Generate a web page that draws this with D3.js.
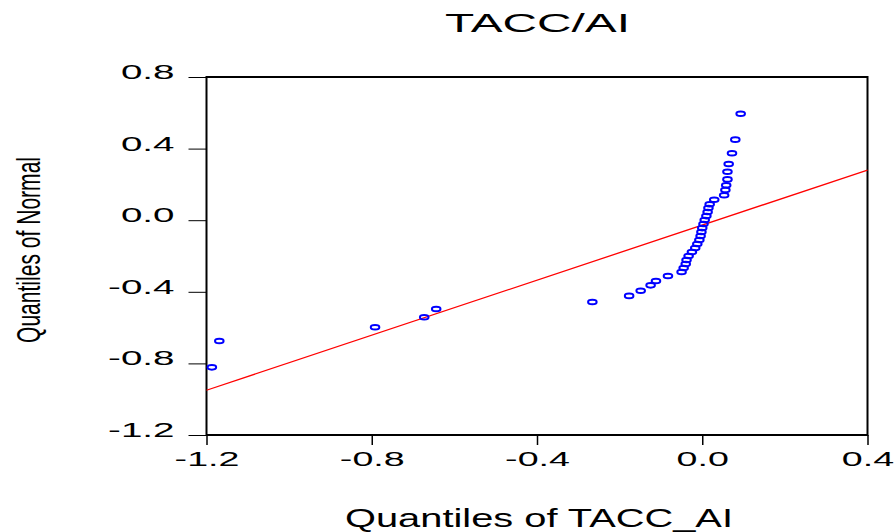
<!DOCTYPE html>
<html>
<head>
<meta charset="utf-8">
<script src="https://cdn.jsdelivr.net/npm/d3@7"></script>
<style>
  body { margin: 0; background: #fff; }
  text { font-family: "Liberation Sans", Arial, sans-serif; fill: #000; }
</style>
</head>
<body>
<div id="chart"></div>
<script>
// Width and height of the picture
const width = 896;
const height = 532;

// Quantiles of TACC_AI (x) and quantiles of normal (y)
const qData = [-1.187, -1.169, -0.792, -0.673, -0.644, -0.266, -0.177, -0.149, -0.125, -0.112,
  -0.083, -0.05, -0.045, -0.04, -0.038, -0.033, -0.025, -0.017, -0.012, -0.007,
  -0.004, -0.002, 0.0, 0.003, 0.006, 0.01, 0.013, 0.015, 0.018, 0.029,
  0.053, 0.056, 0.058, 0.061, 0.061, 0.064, 0.072, 0.08, 0.093];
const qNormal = [-0.822, -0.675, -0.598, -0.542, -0.496, -0.457, -0.423, -0.394, -0.364, -0.34,
  -0.312, -0.289, -0.267, -0.245, -0.222, -0.2, -0.178, -0.155, -0.133, -0.111,
  -0.088, -0.066, -0.044, -0.021, 0.001, 0.023, 0.046, 0.068, 0.089, 0.114,
  0.139, 0.169, 0.195, 0.228, 0.271, 0.314, 0.374, 0.45, 0.595];

// reference line end points
const lineX = [-1.2, 0.4];
const lineY = [-0.95, 0.28];

// tick labels
const xTicks = [-1.2, -0.8, -0.4, 0.0, 0.4];
const yTicks = [-1.2, -0.8, -0.4, 0.0, 0.4, 0.8];

const svg = d3.select("#chart")
    .append("svg")
    .attr("width", width)
    .attr("height", height);

// plot box
const boxLeft = 206.5, boxRight = 867.5, boxTop = 77, boxBottom = 435;

const x = d3.scaleLinear().domain([-1.2, 0.4]).range([boxLeft, boxRight]);
const y = d3.scaleLinear().domain([-1.2, 0.8]).range([boxBottom, boxTop]);

// the original graph is stretched sideways, so widen the texts
function stretch(sel, k) {
  sel.each(function() {
    const len = this.getComputedTextLength();
    d3.select(this)
      .attr("textLength", len * k)
      .attr("lengthAdjust", "spacingAndGlyphs");
  });
}

const fmt = d => d.toFixed(1);

// x axis
const xAxis = svg.append("g")
    .attr("transform", `translate(0,${boxBottom})`)
    .call(d3.axisBottom(x).tickValues(xTicks).tickFormat(fmt).tickSize(10));
xAxis.select(".domain").remove();
xAxis.selectAll(".tick line").attr("stroke", "#000").attr("stroke-width", 1.5);
xAxis.selectAll(".tick text")
    .attr("y", 31)
    .attr("dy", 0)
    .style("font-size", "20px")
    .style("font-family", "Liberation Sans, Arial, sans-serif")
    .call(stretch, 1.88);

// y axis
const yAxis = svg.append("g")
    .attr("transform", `translate(${boxLeft},0)`)
    .call(d3.axisLeft(y).tickValues(yTicks).tickFormat(fmt).tickSize(18).tickPadding(14));
yAxis.select(".domain").remove();
yAxis.selectAll(".tick line").attr("stroke", "#000").attr("stroke-width", 1);
yAxis.selectAll(".tick text")
    .attr("y", 1.5)
    .attr("dy", 0)
    .style("font-size", "20.5px")
    .style("font-family", "Liberation Sans, Arial, sans-serif")
    .call(stretch, 1.88);

// frame
svg.append("rect")
    .attr("x", boxLeft)
    .attr("y", boxTop)
    .attr("width", boxRight - boxLeft)
    .attr("height", boxBottom - boxTop)
    .attr("fill", "none")
    .attr("stroke", "#000")
    .attr("stroke-width", 2);

// red reference line
svg.append("line")
    .attr("x1", x(lineX[0]))
    .attr("y1", y(lineY[0]))
    .attr("x2", x(lineX[1]))
    .attr("y2", y(lineY[1]))
    .attr("stroke", "#ff0000")
    .attr("stroke-width", 1.3);

// points
svg.selectAll(".pt")
    .data(qData)
    .enter()
    .append("ellipse")
    .attr("class", "pt")
    .attr("cx", d => x(d))
    .attr("cy", (d, i) => y(qNormal[i]))
    .attr("rx", 4.3)
    .attr("ry", 2.3)
    .attr("fill", "none")
    .attr("stroke", "#0000ff")
    .attr("stroke-width", 2);

// title
svg.append("text")
    .attr("x", 537.5)
    .attr("y", 32)
    .attr("text-anchor", "middle")
    .style("font-size", "26.5px")
    .text("TACC/AI")
    .attr("textLength", 185)
    .attr("lengthAdjust", "spacingAndGlyphs");

// x label
svg.append("text")
    .attr("x", 539)
    .attr("y", 527)
    .attr("text-anchor", "middle")
    .style("font-size", "25px")
    .text("Quantiles of TACC_AI")
    .attr("textLength", 388)
    .attr("lengthAdjust", "spacingAndGlyphs");

// y label, narrow because of the stretch
svg.append("text")
    .attr("transform", "translate(40,250) scale(1.6,1) rotate(-90)")
    .attr("text-anchor", "middle")
    .style("font-size", "21px")
    .text("Quantiles of Normal")
    .attr("textLength", 186)
    .attr("lengthAdjust", "spacingAndGlyphs");
</script>
</body>
</html>
